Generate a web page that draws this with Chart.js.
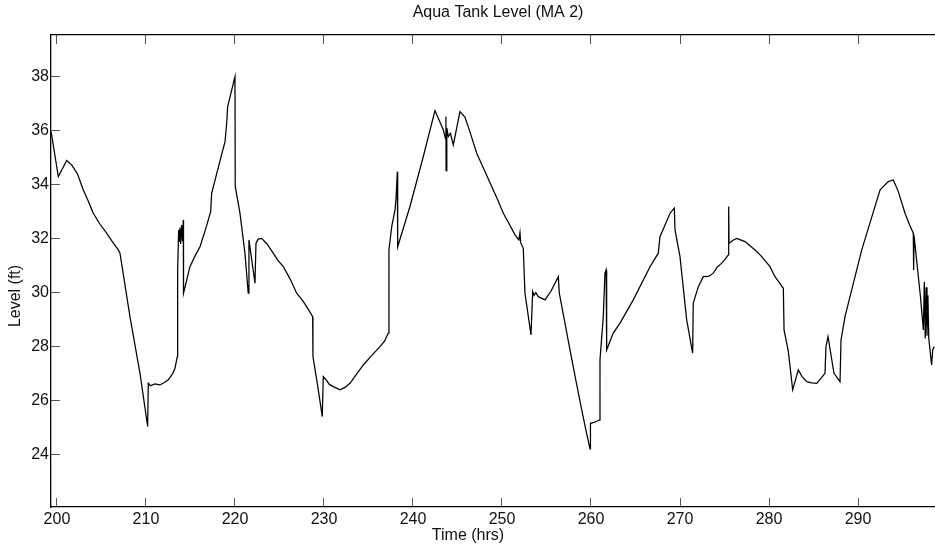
<!DOCTYPE html>
<html>
<head>
<meta charset="utf-8">
<script src="https://cdn.jsdelivr.net/npm/chart.js@4.4.1/dist/chart.umd.min.js"></script>
<style>
  html, body { margin: 0; padding: 0; background: #fff; }
  #wrap { width: 935px; height: 544px; }
</style>
</head>
<body>
<div id="wrap"><canvas id="c" width="935" height="544"></canvas></div>
<script>
// Aqua Tank Level (MA 2)
const hours = [
  199.35, 200.15, 201.09, 201.65, 202.3, 202.96, 203.5, 204.08, 204.8, 205.58, 206.2, 206.89, 207.08,
  208.2, 209.33, 210.19, 210.26, 210.5, 211.0, 211.57, 212.1, 212.51, 213.0, 213.26, 213.52,
  213.56, 213.67, 213.75, 213.82, 213.9, 214.0, 214.1, 214.19, 214.22, 214.94, 215.5, 216.07,
  216.7, 217.27, 217.38, 218.1, 218.88, 219.07, 219.18, 220.0, 220.03, 220.56, 221.12, 221.49,
  221.57, 222.25, 222.36, 222.6, 223.0, 223.6, 224.3, 224.8, 225.43, 226.2, 226.93, 227.5,
  228.06, 228.73, 228.76, 229.25, 229.81, 229.92, 230.3, 230.6, 231.04, 231.8, 232.4, 232.92,
  233.6, 234.42, 235.3, 236.29, 236.8, 237.22, 237.3, 237.61, 237.98, 238.1, 238.24, 238.28,
  239.66, 241.16, 242.47, 243.4, 243.65, 243.7, 243.72, 243.8, 243.97, 244.2, 244.53, 245.28,
  245.5, 245.84, 246.5, 247.16, 248.0, 248.84, 249.5, 250.15, 250.8, 251.46, 251.9, 252.02,
  252.1, 252.39, 252.58, 253.26, 253.45, 253.6, 253.8, 254.08, 254.83, 255.5, 256.33, 256.44,
  257.0, 257.64, 258.3, 258.96, 259.5, 259.89, 259.94, 260.4, 260.93, 261.01, 261.38, 261.57,
  261.7, 261.76, 262.5, 263.26, 264.75, 266.63, 267.56, 267.75, 268.88, 269.36, 269.44, 270.0,
  270.75, 271.42, 271.49, 272.06, 272.62, 273.2, 273.74, 274.2, 274.69, 275.1, 275.43, 275.47,
  275.51, 276.0, 276.37, 276.8, 277.3, 278.0, 278.62, 279.18, 280.11, 280.67, 281.2, 281.61,
  281.69, 282.17, 282.66, 283.29, 283.7, 284.24, 284.8, 285.36, 285.9, 286.29, 286.4, 286.63,
  287.3, 287.98, 288.09, 288.54, 289.29, 290.42, 291.5, 292.47, 293.4, 293.97, 294.53, 295.28,
  295.8, 296.21, 296.25, 296.3, 297.0, 297.34, 297.45, 297.55, 297.65, 297.75, 297.85, 297.95,
  298.05, 298.27, 298.4, 298.6
];
const levels = [
  35.95, 34.30, 34.89, 34.73, 34.40, 33.80, 33.40, 32.94, 32.55, 32.20, 31.90, 31.58, 31.46,
  29.11, 27.01, 25.04, 26.64, 26.55, 26.62, 26.58, 26.68, 26.77, 27.00, 27.20, 27.63,
  30.84, 32.32, 31.90, 32.40, 31.80, 32.50, 31.90, 32.69, 29.98, 30.96, 31.35, 31.70,
  32.35, 33.00, 33.68, 34.60, 35.59, 36.27, 36.89, 38.00, 33.93, 32.94, 31.46, 29.98,
  31.95, 30.35, 31.83, 31.98, 32.01, 31.80, 31.46, 31.20, 30.96, 30.50, 29.98, 29.75,
  29.48, 29.11, 27.63, 26.64, 25.41, 26.89, 26.75, 26.60, 26.52, 26.40, 26.50, 26.64,
  26.95, 27.32, 27.65, 28.00, 28.20, 28.50, 31.58, 32.44, 33.06, 33.50, 34.48, 31.70,
  33.19, 35.04, 36.74, 36.03, 35.70, 36.52, 34.52, 36.10, 35.78, 35.90, 35.47, 36.70,
  36.62, 36.50, 35.85, 35.16, 34.55, 33.93, 33.45, 32.94, 32.55, 32.14, 31.95, 32.22,
  31.85, 31.64, 29.98, 28.43, 30.04, 29.90, 30.00, 29.85, 29.73, 30.05, 30.59, 29.98,
  29.00, 27.88, 26.75, 25.66, 24.80, 24.21, 25.16, 25.20, 25.28, 27.51, 29.11, 30.72,
  30.84, 27.88, 28.50, 28.87, 29.73, 30.96, 31.46, 32.07, 32.94, 33.13, 32.32, 31.33,
  28.99, 27.76, 29.61, 30.22, 30.59, 30.60, 30.72, 30.95, 31.09, 31.25, 31.40, 33.19,
  31.83, 31.95, 32.01, 31.95, 31.89, 31.70, 31.52, 31.33, 30.96, 30.59, 30.35, 30.16,
  28.62, 27.82, 26.40, 27.14, 26.90, 26.70, 26.66, 26.64, 26.85, 27.01, 28.00, 28.37,
  27.01, 26.70, 28.25, 29.11, 30.10, 31.58, 32.75, 33.80, 34.11, 34.17, 33.74, 32.94,
  32.50, 32.20, 30.84, 32.10, 29.90, 28.62, 30.40, 28.30, 30.20, 28.40, 29.90, 28.30,
  28.00, 27.32, 27.90, 28.00
];
const xTicks = [200, 210, 220, 230, 240, 250, 260, 270, 280, 290];
const yTicks = [24, 26, 28, 30, 32, 34, 36, 38];

const X_MIN = 199.33, X_MAX = 298.65;
const Y_MIN = 22.06, Y_MAX = 39.54;

const FONT = "'Liberation Sans', Arial, Helvetica, sans-serif";
Chart.defaults.font.family = FONT;
Chart.defaults.font.size = 16;
Chart.defaults.color = '#111';

// Title and axis labels sit where the original figure puts them
// (slightly off the plot-area centre), so they are drawn by hand.
const figureText = {
  id: 'figureText',
  afterDraw(chart) {
    const ctx = chart.ctx;
    ctx.save();
    ctx.fillStyle = '#111';
    ctx.font = '16px ' + FONT;
    ctx.textAlign = 'center';
    ctx.textBaseline = 'middle';
    ctx.fillText('Aqua Tank Level (MA 2)', 498, 13);
    ctx.fillText('Time (hrs)', 468, 536);
    ctx.translate(16, 296);
    ctx.rotate(-Math.PI / 2);
    ctx.fillText('Level (ft)', 0, 0);
    ctx.restore();
  },
};

// MATLAB-ish axes: ticks pointing into the plot, no grid
const inwardGrid = { drawOnChartArea: false, drawTicks: true, tickLength: -9, tickColor: '#555', tickWidth: 1 };
const blackBorder = { display: true, color: '#000', width: 1.3 };

new Chart(document.getElementById('c'), {
  type: 'line',
  data: {
    datasets: [{
      label: 'Level',
      data: hours.map((h, i) => ({ x: h, y: levels[i] })),
      borderColor: '#000',
      borderWidth: 1.25,
      pointRadius: 0,
      tension: 0,
      fill: false,
    }],
  },
  options: {
    responsive: false,
    animation: false,
    layout: { padding: 0 },
    plugins: {
      legend: { display: false },
      tooltip: { enabled: false },
      title: { display: false },
    },
    scales: {
      x: {
        type: 'linear', position: 'bottom', min: X_MIN, max: X_MAX,
        afterBuildTicks: (s) => { s.ticks = xTicks.map((v) => ({ value: v })); },
        afterFit: (s) => { s.height = 37; },
        ticks: { padding: 12, maxRotation: 0, autoSkip: false, callback: (v) => String(v) },
        grid: inwardGrid,
        border: blackBorder,
      },
      xTop: {
        type: 'linear', position: 'top', min: X_MIN, max: X_MAX,
        afterBuildTicks: (s) => { s.ticks = xTicks.map((v) => ({ value: v })); },
        afterFit: (s) => { s.height = 35; },
        ticks: { display: false },
        grid: inwardGrid,
        border: blackBorder,
      },
      y: {
        type: 'linear', position: 'left', min: Y_MIN, max: Y_MAX,
        afterBuildTicks: (s) => { s.ticks = yTicks.map((v) => ({ value: v })); },
        afterFit: (s) => { s.width = 51; },
        ticks: { padding: 11, callback: (v) => String(v) },
        grid: inwardGrid,
        border: blackBorder,
      },
    },
  },
  plugins: [figureText],
});
</script>
</body>
</html>
